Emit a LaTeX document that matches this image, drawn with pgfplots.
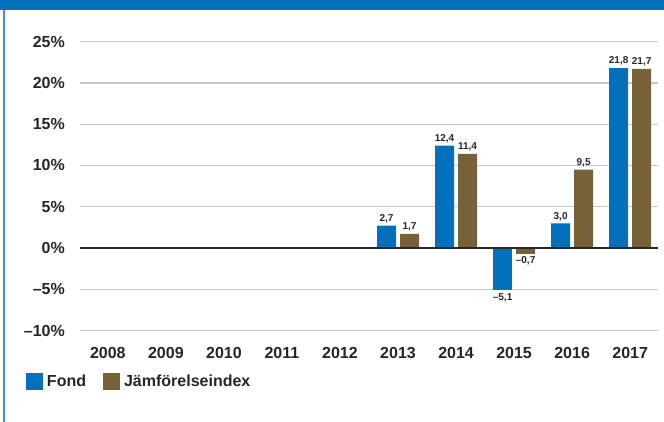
\documentclass[border=0pt]{standalone}
\usepackage{pgfplots}
\pgfplotsset{compat=1.18}
\usepackage{fontspec}
\setmainfont{Liberation Sans}
\definecolor{fondblue}{HTML}{0070BA}
\definecolor{indexbrown}{HTML}{766139}
\definecolor{txt}{HTML}{262626}
\definecolor{gridgray}{HTML}{C8C8C8}
\begin{document}
\begin{tikzpicture}[x=1pt,y=1pt]
\useasboundingbox (0,0) rectangle (664,422);
\fill[fondblue] (0,412) rectangle (664,422);
\fill[fondblue!75] (2.5,0) rectangle (4.5,412);
\begin{axis}[
  at={(80pt,91.4pt)}, anchor=south west, scale only axis,
  width=578pt, height=289pt,
  xmin=-0.48, xmax=9.48, ymin=-10, ymax=25,
  axis line style={draw=none},
  major tick length=0pt,
  ytick={-10,-5,0,5,10,15,20,25},
  yticklabels={–10\%,–5\%,0\%,5\%,10\%,15\%,20\%,25\%},
  xtick={0,1,2,3,4,5,6,7,8,9},
  xticklabels={2008,2009,2010,2011,2012,2013,2014,2015,2016,2017},
  ymajorgrids,
  grid style={color=gridgray, line width=1.3pt},
  tick label style={font=\fontsize{16}{18}\selectfont\bfseries, text=txt},
  yticklabel style={anchor=east, inner sep=0pt, xshift=-15pt},
  xticklabel style={anchor=base, inner sep=0pt, yshift=-27.5pt},
  ybar, bar width=19pt,
  point meta=explicit symbolic,
  nodes near coords,
  nodes near coords style={font=\fontsize{10}{12}\selectfont\bfseries, text=txt, inner sep=2.5pt},
  clip=false,
  legend columns=2,
  legend image code/.code={\path[#1, draw=none] (0pt,-8.5pt) rectangle (17pt,8.5pt);},
  legend style={at={(0,0)}, anchor=north west, xshift=-54pt, yshift=-42.7pt,
    draw=none, fill=none, inner sep=0pt, outer sep=0pt,
    font=\fontsize{16}{18}\selectfont\bfseries, text=txt,
    nodes={inner sep=0pt, anchor=west},
    /tikz/every odd column/.style={column sep=4pt},
    /tikz/every even column/.style={column sep=17pt}},
]
\addplot[fill=fondblue, draw=none, bar shift=-11.5pt] coordinates {
  (5,2.7) [{2,7}]
  (6,12.4) [{12,4}]
  (8,3.0) [{3,0}]
  (9,21.8) [{21,8}]
};
\addlegendentry{Fond}
\addplot[fill=indexbrown, draw=none, bar shift=11.5pt] coordinates {
  (5,1.7) [{1,7}]
  (6,11.4) [{11,4}]
  (8,9.5) [{9,5}]
  (9,21.7) [{21,7}]
};
\addlegendentry{Jämförelseindex}
\addplot[fill=fondblue, draw=none, bar shift=-11.5pt, forget plot,
  every node near coord/.append style={anchor=north, inner sep=3pt}] coordinates {
  (7,-5.1) [{–5,1}]
};
\addplot[fill=indexbrown, draw=none, bar shift=11.5pt, forget plot,
  every node near coord/.append style={anchor=north, inner sep=3pt}] coordinates {
  (7,-0.7) [{–0,7}]
};
\draw[line width=1.5pt, color=txt] (axis cs:-0.48,0) -- (axis cs:9.48,0);
\end{axis}
\end{tikzpicture}
\end{document}
